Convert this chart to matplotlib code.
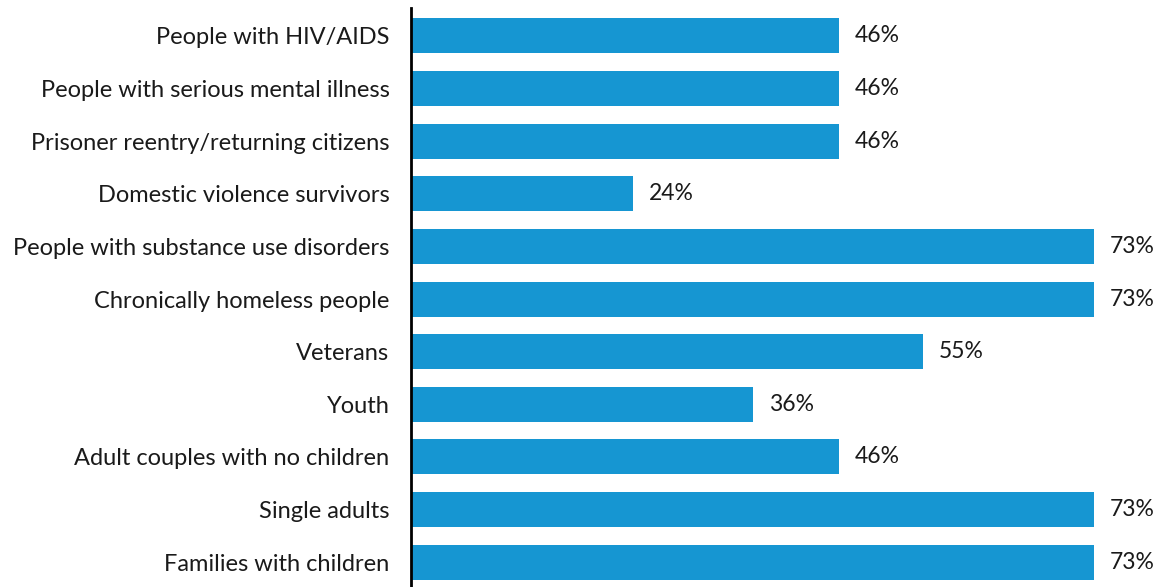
import matplotlib
matplotlib.use("Agg")
import matplotlib.pyplot as plt

plt.rcParams['font.family'] = ['Lato', 'DejaVu Sans']

# Dane
kategorie = [
    "People with HIV/AIDS",
    "People with serious mental illness",
    "Prisoner reentry/returning citizens",
    "Domestic violence survivors",
    "People with substance use disorders",
    "Chronically homeless people",
    "Veterans",
    "Youth",
    "Adult couples with no children",
    "Single adults",
    "Families with children",
]
wartosci = [45.5, 45.5, 45.5, 23.6, 72.7, 72.7, 54.5, 36.4, 45.5, 72.7, 72.7]
etykiety = ["46%", "46%", "46%", "24%", "73%", "73%", "55%", "36%", "46%", "73%", "73%"]

fig = plt.figure(figsize=(11.6, 5.87), dpi=100)
ax = fig.add_axes([411 / 1160, 0, 1 - 411 / 1160, 1 - 8 / 587])

poz = list(range(len(kategorie)))
ax.barh(poz, wartosci, height=0.665, color="#1696d2")

for p, w, e in zip(poz, wartosci, etykiety):
    ax.text(w + 1.7, p, e, va="center", ha="left", fontsize=16.5, color="#1a1a1a")

ax.set_yticks(poz)
ax.set_yticklabels(kategorie, fontsize=17, color="#1a1a1a")
ax.tick_params(axis="y", length=0, pad=15.5)
ax.set_xticks([])
ax.set_xlim(0, 79.7)
ax.set_ylim(10.47, -0.53)

for s in ["top", "right", "bottom"]:
    ax.spines[s].set_visible(False)
ax.spines["left"].set_linewidth(2)
ax.spines["left"].set_color("black")

fig.savefig("out.png", dpi=100)
